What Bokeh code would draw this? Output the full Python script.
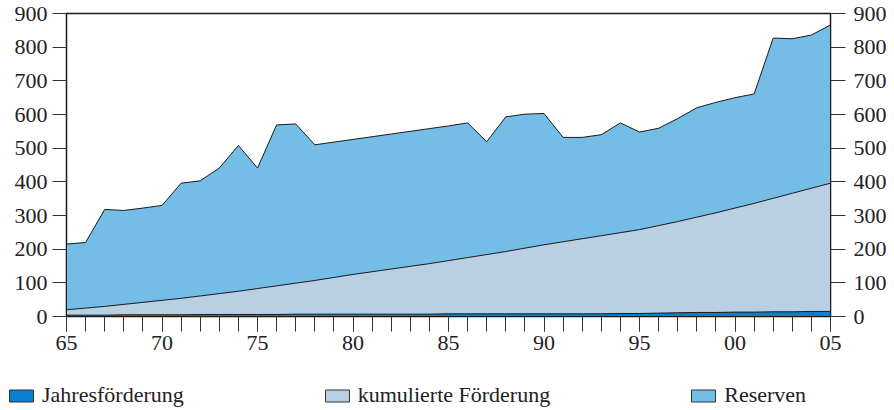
from bokeh.plotting import figure
from bokeh.layouts import column
from bokeh.models import Range1d, LinearAxis, FixedTicker, Legend, LegendItem
from bokeh.embed import file_html
from bokeh.resources import INLINE

years = list(range(1965, 2006))
reserven = [215, 220, 318, 315, 322, 330, 396, 403, 441, 508,
            441, 569, 572, 510, 518, 526, 534, 542, 550, 558,
            566, 575, 519, 593, 601, 603, 532, 532, 540, 575,
            548, 559, 588, 620, 636, 650, 661, 827, 825, 836, 866]
kumuliert = [20, 25, 30, 36, 42, 48, 54, 61, 68, 75,
             83, 91, 99, 107, 116, 125, 133, 141, 149, 157,
             166, 175, 184, 193, 203, 213, 222, 231, 240, 249,
             258, 270, 282, 295, 308, 322, 336, 351, 366, 381, 396]
jahres = [4, 4, 4, 5, 5, 5, 5, 6, 6, 6,
          6, 6, 7, 7, 7, 7, 7, 7, 7, 7,
          8, 8, 8, 8, 8, 8, 8, 8, 8, 9,
          9, 10, 11, 12, 12, 13, 13, 14, 14, 15, 15]
xtick_years = [1965, 1970, 1975, 1980, 1985, 1990, 1995, 2000, 2005]
xtick_labels = ["65", "70", "75", "80", "85", "90", "95", "00", "05"]
ytick_values = [0, 100, 200, 300, 400, 500, 600, 700, 800, 900]
series_names = ["Jahresförderung", "kumulierte Förderung", "Reserven"]
series_colors = ["#0A7FCF", "#B9CFE4", "#73BDE7"]

FONT = "Liberation Serif"
TXT = "#222222"
EDGE = "#1a1a1a"

p = figure(width=894, height=365, output_backend="svg", toolbar_location=None,
           x_range=Range1d(1965, 2005), y_range=Range1d(0, 900),
           min_border_left=66, min_border_right=64, min_border_top=13,
           min_border_bottom=49)
p.background_fill_color = "white"
p.border_fill_color = "white"
p.outline_line_color = EDGE
p.outline_line_width = 1.5
p.xgrid.visible = False
p.ygrid.visible = False

xs = years + years[::-1]
zeros = [0] * len(years)
p.patch(xs, reserven + zeros[::-1], fill_color=series_colors[2],
        line_color=EDGE, line_width=1)
p.patch(xs, kumuliert + zeros[::-1], fill_color=series_colors[1],
        line_color=EDGE, line_width=1)
p.patch(xs, jahres + zeros[::-1], fill_color=series_colors[0],
        line_color=EDGE, line_width=1)

xa = p.xaxis[0]
xa.ticker = FixedTicker(ticks=xtick_years, minor_ticks=years)
xa.major_label_overrides = dict(zip(xtick_years, xtick_labels))
xa.major_tick_out = 15
xa.major_tick_in = 0
xa.minor_tick_out = 15
xa.minor_tick_in = 0
xa.major_tick_line_color = "#333333"
xa.minor_tick_line_color = "#333333"
xa.axis_line_color = EDGE
xa.major_label_standoff = 4
xa.major_label_text_font = FONT
xa.major_label_text_font_size = "22px"
xa.major_label_text_color = TXT

def style_y(ax, standoff, out):
    ax.ticker = FixedTicker(ticks=ytick_values)
    ax.major_tick_out = out
    ax.major_tick_in = 0
    ax.minor_tick_line_color = None
    ax.major_tick_line_color = "#333333"
    ax.axis_line_color = EDGE
    ax.major_label_standoff = standoff
    ax.major_label_text_font = FONT
    ax.major_label_text_font_size = "22px"
    ax.major_label_text_color = TXT

style_y(p.yaxis[0], 5, 14)
ra = LinearAxis()
style_y(ra, 8, 15)
p.add_layout(ra, "right")

# legend strip below the chart
lg = figure(width=894, height=45, output_backend="svg", toolbar_location=None,
            x_range=Range1d(1965, 2005), y_range=Range1d(0, 900),
            x_axis_type=None, y_axis_type=None,
            min_border_left=0, min_border_right=0, min_border_top=0,
            min_border_bottom=0)
for fig in (p, lg):
    try:
        fig.frame_align = False
    except Exception:
        pass
lg.outline_line_color = None
lg.xgrid.visible = False
lg.ygrid.visible = False
items = []
for name, col, vals in zip(series_names, series_colors, [jahres, kumuliert, reserven]):
    r = lg.patch(xs, vals + zeros[::-1], fill_color=col, line_color="#333333",
                 line_width=1, visible=False)
    items.append(LegendItem(label=name, renderers=[r]))
legend = Legend(items=items, orientation="horizontal", location=(6, 2),
                glyph_width=30, glyph_height=15, label_standoff=6,
                spacing=138, padding=0, margin=0,
                border_line_color=None, background_fill_alpha=0,
                inactive_fill_alpha=0,
                label_text_font=FONT, label_text_font_size="22px",
                label_text_color=TXT)
lg.add_layout(legend, "center")

layout = column(p, lg, spacing=0)
open("out.html", "w").write(file_html(layout, INLINE))
